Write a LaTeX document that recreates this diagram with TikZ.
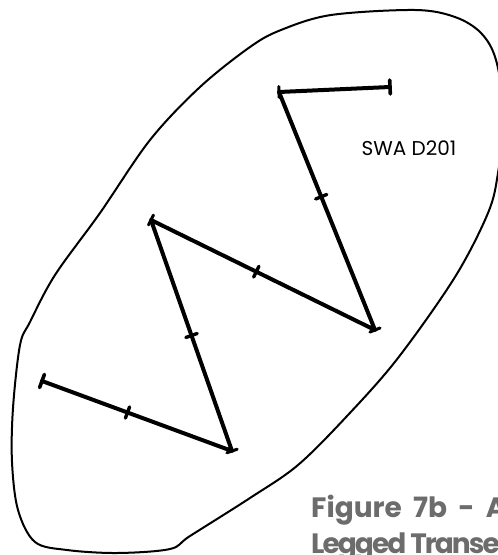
\documentclass[tikz,border=0pt]{standalone}
\usepackage{fontspec}
\setmainfont{Poppins}
\newfontfamily\captionfont{Poppins}[WordSpace=1.9]
\newfontfamily\captiontight{Poppins}[LetterSpace=-7]
\definecolor{captionGray}{RGB}{108,108,108}

\tikzset{
  outline/.style={line width=2pt, line join=round},
  transect/.style={line width=4pt, line cap=round, line join=round},
  endbar/.style={sloped, draw, line width=3.6pt, line join=round, minimum height=14pt, minimum width=0pt, inner sep=0pt},
  midtick/.style={sloped, draw, line width=3.4pt, line join=round, minimum height=12pt, minimum width=0pt, inner sep=0pt},
  cornertick/.style={sloped, draw, line width=3pt, line join=round, minimum height=11pt, minimum width=0pt, inner sep=0pt},
}

\begin{document}
\begin{tikzpicture}[x=1pt, y=-1pt]
  \useasboundingbox (0,0) rectangle (498,555);
  \clip (0,0) rectangle (498,555);

  % survey area boundary
  \draw[outline] plot[smooth cycle, tension=0.55] coordinates {
    (281,30) (331,15) (415,10) (455,17) (481,33) (496,60) (504,115)
    (498,173) (488,213) (455,277) (398,358) (348,415) (298,465)
    (250,498) (190,536) (170,549) (117,553) (67,550) (35,542)
    (18,510) (12,462) (13,408) (20,345) (30,322) (55,275)
    (100,213) (150,140) (200,87) (250,47)};

  % transect legs
  \coordinate (p1) at (390,87);
  \coordinate (p2) at (279,92);
  \coordinate (p3) at (375,330);
  \coordinate (p4) at (151,220);
  \coordinate (p5) at (232,451);
  \coordinate (p6) at (42,381);

  \draw[transect] (p1) -- node[endbar, pos=0] (e1) {} node[cornertick, pos=1] (c2) {} (p2)
    -- node[midtick, pos=0.44] (m1) {} node[cornertick, pos=1] (c3) {} (p3)
    -- node[midtick, pos=0.53] (m2) {} node[cornertick, pos=1] (c4) {} (p4)
    -- node[midtick, pos=0.5] (m3) {} node[cornertick, pos=1] (c5) {} (p5)
    -- node[midtick, pos=0.55] (m4) {} node[endbar, pos=1] (e2) {} (p6);

  % labels
  \node (area) at (409,148) {\fontsize{20}{24}\selectfont SWA D201};
  \node[anchor=base west, inner sep=0pt, text=captionGray] (cap1) at (311,517)
    {\captionfont\fontsize{28}{34}\selectfont\bfseries Figure 7b - A};
  \node[anchor=base west, inner sep=0pt, text=captionGray] (cap2) at (311,553)
    {\captiontight\fontsize{28}{34}\selectfont\bfseries Legged Transec};
\end{tikzpicture}
\end{document}
